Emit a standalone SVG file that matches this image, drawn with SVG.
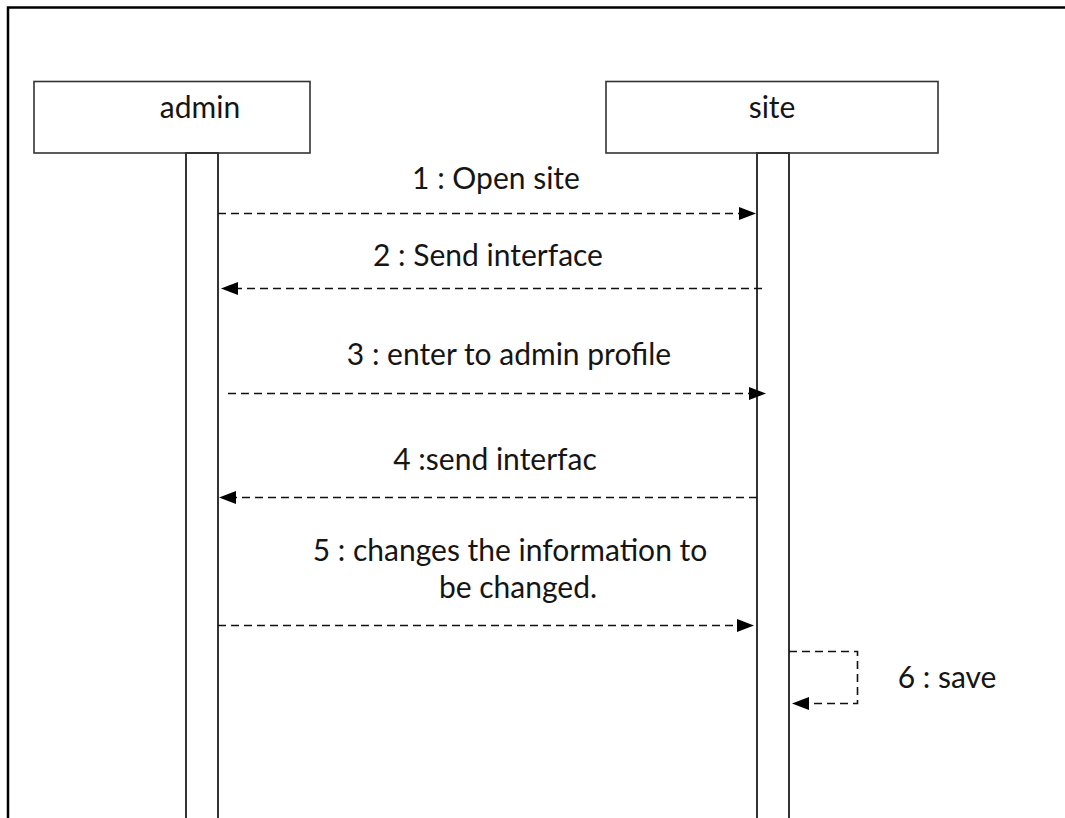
<svg xmlns="http://www.w3.org/2000/svg" width="1065" height="818" viewBox="0 0 1065 818">
  <style>
    .frame { fill: none; stroke: #000; stroke-width: 2.5; }
    .head { fill: #fff; stroke: #333; stroke-width: 1.6; }
    .life { fill: #fff; stroke: #333; stroke-width: 2; }
    .msg { fill: none; stroke: #111; stroke-width: 1.6; stroke-dasharray: 8 5; }
    .arrow { fill: #000; }
    text { font-family: Lato, "Liberation Sans", sans-serif; font-size: 30px; fill: #151515; text-anchor: middle; }
  </style>

  <!-- outer frame: top and left edges only -->
  <path class="frame" d="M8,818 L8,7.5 L1065,7.5"/>

  <g id="admin">
    <rect class="head" x="34" y="81.5" width="276" height="71.5"/>
    <text x="200" y="118">admin</text>
    <rect class="life" x="186" y="153" width="32" height="670"/>
  </g>

  <g id="site">
    <rect class="head" x="606" y="81.5" width="332" height="71.5"/>
    <text x="772" y="118">site</text>
    <rect class="life" x="757" y="153" width="32" height="670"/>
  </g>

  <g id="connectors">
    <!-- 1 -->
    <line class="msg" x1="218" y1="213.5" x2="740" y2="213.5"/>
    <polygon class="arrow" points="756,213.5 739,207 739,220"/>
    <!-- 2 -->
    <line class="msg" x1="762" y1="288.5" x2="236" y2="288.5"/>
    <polygon class="arrow" points="221,288.5 238,282 238,295"/>
    <!-- 3 -->
    <line class="msg" x1="228" y1="393.5" x2="750" y2="393.5"/>
    <polygon class="arrow" points="766,393.5 749,387 749,400"/>
    <!-- 4 -->
    <line class="msg" x1="757" y1="497.5" x2="234" y2="497.5"/>
    <polygon class="arrow" points="219,497.5 236,491 236,504"/>
    <!-- 5 -->
    <line class="msg" x1="218" y1="625.5" x2="738" y2="625.5"/>
    <polygon class="arrow" points="754,625.5 737,619 737,632"/>
    <!-- 6: self call -->
    <polyline class="msg" points="789,651.5 857.5,651.5 857.5,703.5 808,703.5"/>
    <polygon class="arrow" points="792,703.5 809,697 809,710"/>
  </g>

  <g id="labels">
    <text x="496" y="189">1 : Open site</text>
    <text x="488" y="266">2 : Send interface</text>
    <text x="509" y="365">3 : enter to admin profile</text>
    <text x="495" y="470">4 :send interfac</text>
    <text x="510" y="561">5 : changes the information to</text>
    <text x="518" y="598">be changed.</text>
    <text x="947" y="688">6 : save</text>
  </g>
</svg>
